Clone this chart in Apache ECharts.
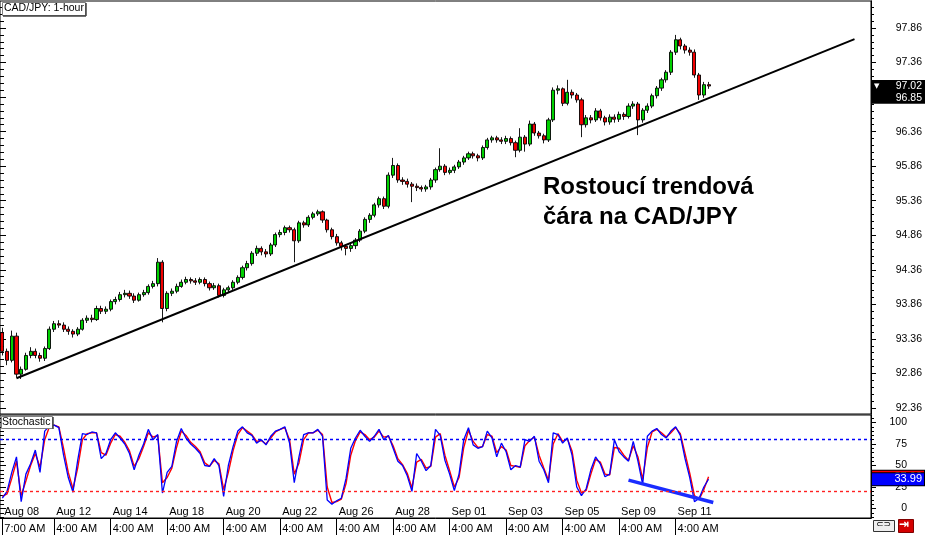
<!DOCTYPE html>
<html><head><meta charset="utf-8">
<script src="https://cdn.jsdelivr.net/npm/echarts@6/dist/echarts.min.js"></script>
<style>html,body{margin:0;padding:0;background:#fff}#c{width:925px;height:535px}</style>
</head><body><div id="c"></div>
<script>
// ---- price candles (open / close / low / high) ----
const open = [
93.45,93.18,93.05,93.40,92.85,92.92,93.12,93.18,93.12,93.08,
93.22,93.50,93.58,93.56,93.50,93.47,93.43,93.50,93.63,93.66,
93.64,93.80,93.76,93.79,93.90,93.93,94.00,94.02,93.98,93.92,
94.00,94.03,94.12,94.16,94.47,93.80,94.02,94.05,94.12,94.18,
94.22,94.20,94.18,94.22,94.16,94.10,94.13,93.99,94.07,94.10,
94.18,94.25,94.39,94.45,94.60,94.67,94.62,94.59,94.72,94.87,
94.90,94.97,94.94,94.78,95.04,95.01,95.12,95.17,95.20,95.08,
94.94,94.84,94.75,94.70,94.67,94.71,94.79,94.92,95.09,95.15,
95.30,95.39,95.28,95.73,95.87,95.66,95.64,95.60,95.57,95.55,
95.53,95.56,95.66,95.81,95.86,95.77,95.80,95.85,95.92,95.98,
96.04,96.01,95.98,96.13,96.24,96.27,96.24,96.22,96.26,96.20,
96.09,96.28,96.18,96.47,96.34,96.30,96.24,96.53,96.96,96.98,
96.77,96.93,96.89,96.82,96.46,96.56,96.53,96.66,96.56,96.50,
96.57,96.54,96.61,96.58,96.73,96.76,96.53,96.67,96.73,96.88,
96.99,97.11,97.22,97.51,97.69,97.60,97.54,97.51,97.18,96.89,
97.04];
const close = [
93.18,93.05,93.40,92.85,92.92,93.12,93.18,93.12,93.08,93.22,
93.50,93.58,93.56,93.50,93.47,93.43,93.50,93.63,93.66,93.64,
93.80,93.76,93.79,93.90,93.93,94.00,94.02,93.98,93.92,94.00,
94.03,94.12,94.16,94.47,93.80,94.02,94.05,94.12,94.18,94.22,
94.20,94.18,94.22,94.16,94.10,94.13,93.99,94.07,94.10,94.18,
94.25,94.39,94.45,94.60,94.67,94.62,94.59,94.72,94.87,94.90,
94.97,94.94,94.78,95.04,95.01,95.12,95.17,95.20,95.08,94.94,
94.84,94.75,94.70,94.67,94.71,94.79,94.92,95.09,95.15,95.30,
95.39,95.28,95.73,95.87,95.66,95.64,95.60,95.57,95.55,95.53,
95.56,95.66,95.81,95.86,95.77,95.80,95.85,95.92,95.98,96.04,
96.01,95.98,96.13,96.24,96.27,96.24,96.22,96.26,96.20,96.09,
96.28,96.18,96.47,96.34,96.30,96.24,96.53,96.96,96.98,96.77,
96.93,96.89,96.82,96.46,96.56,96.53,96.66,96.56,96.50,96.57,
96.54,96.61,96.58,96.73,96.76,96.53,96.67,96.73,96.88,96.99,
97.11,97.22,97.51,97.69,97.60,97.54,97.51,97.18,96.89,97.04,
97.02];
const low = [
93.12,92.98,93.02,92.80,92.78,92.90,93.08,93.08,93.03,93.04,
93.20,93.46,93.52,93.46,93.42,93.38,93.40,93.48,93.59,93.60,
93.62,93.72,93.72,93.76,93.86,93.90,93.96,93.94,93.88,93.90,
93.97,94.00,94.09,94.12,93.60,93.76,93.98,94.02,94.10,94.15,
94.16,94.14,94.15,94.12,94.06,94.07,93.96,93.96,94.03,94.07,
94.15,94.22,94.35,94.42,94.56,94.57,94.54,94.56,94.69,94.83,
94.86,94.90,94.47,94.75,94.97,94.98,95.09,95.14,95.04,94.90,
94.80,94.71,94.64,94.57,94.62,94.66,94.76,94.89,95.04,95.12,
95.26,95.24,95.25,95.69,95.62,95.59,95.55,95.34,95.50,95.49,
95.49,95.52,95.62,95.78,95.73,95.74,95.76,95.82,95.88,95.95,
95.97,95.93,95.95,96.10,96.20,96.20,96.18,96.18,96.16,95.99,
96.06,96.07,96.15,96.30,96.26,96.19,96.21,96.50,96.90,96.73,
96.74,96.84,96.78,96.28,96.42,96.48,96.50,96.52,96.45,96.46,
96.49,96.50,96.53,96.55,96.69,96.31,96.49,96.63,96.70,96.84,
96.95,97.07,97.18,97.47,97.55,97.49,97.46,97.14,96.82,96.85,
96.98];
const high = [
93.52,93.22,93.48,93.45,92.96,93.16,93.24,93.22,93.16,93.25,
93.54,93.62,93.63,93.60,93.54,93.50,93.53,93.66,93.70,93.71,
93.84,93.84,93.83,93.93,93.97,94.04,94.07,94.06,94.02,94.03,
94.07,94.15,94.20,94.53,94.50,94.05,94.09,94.16,94.22,94.26,
94.25,94.24,94.25,94.25,94.19,94.17,94.16,94.10,94.13,94.21,
94.28,94.42,94.49,94.63,94.71,94.70,94.66,94.75,94.90,94.94,
95.00,95.00,94.97,95.07,95.07,95.15,95.20,95.23,95.22,95.10,
94.97,94.88,94.78,94.73,94.75,94.82,94.95,95.12,95.18,95.33,
95.42,95.42,95.77,95.98,95.90,95.70,95.68,95.63,95.61,95.58,
95.59,95.69,95.84,96.12,95.89,95.84,95.88,95.95,96.01,96.07,
96.07,96.04,96.16,96.27,96.30,96.30,96.28,96.30,96.29,96.23,
96.41,96.31,96.52,96.50,96.37,96.33,96.56,97.00,97.03,97.00,
97.11,96.97,96.92,96.85,96.60,96.60,96.70,96.69,96.59,96.61,
96.61,96.65,96.64,96.77,96.80,96.79,96.70,96.77,96.91,97.02,
97.14,97.25,97.54,97.76,97.72,97.63,97.58,97.55,97.21,97.08,
97.08];

// ---- stochastic (%K blue, %D red) ----
const kValues = [
12,20,42,60,8,40,52,68,42,90,
96,97,94,62,36,19,56,87,86,89,
88,58,64,80,88,82,75,64,45,62,
75,92,80,86,18,42,49,78,93,82,
75,70,64,50,49,58,50,14,50,72,
90,95,88,85,76,80,74,84,90,92,
95,76,30,60,86,88,88,92,84,10,
5,9,12,35,70,82,91,84,78,84,
92,80,85,70,55,50,38,20,64,55,
44,50,92,85,56,40,21,40,80,94,
74,70,72,90,82,60,76,66,45,50,
48,80,78,84,55,45,30,88,86,76,
82,62,25,15,23,45,60,52,37,40,
80,66,60,55,78,55,28,84,90,93,
86,82,90,95,85,58,36,8,12,25,
33.99];
const dValues = [
14,17,35,55,15,32,50,64,48,80,
95,97,95,70,42,23,47,80,87,88,
88,65,62,76,86,84,77,67,49,58,
72,88,83,85,30,36,47,71,90,85,
77,72,66,53,49,56,52,22,42,67,
86,94,90,86,78,79,75,82,89,92,
94,80,40,53,80,88,88,91,86,25,
7,8,11,29,62,79,89,86,80,83,
90,83,84,73,58,51,41,24,54,57,
47,49,83,87,62,44,25,36,71,91,
78,71,72,86,84,65,72,68,50,49,
48,73,79,83,62,47,33,75,87,78,
81,67,33,18,21,40,57,54,40,39,
71,70,62,56,73,60,34,71,89,92,
88,83,88,94,87,64,41,15,11,22,
37];

// ---- axes / annotations ----
const slotCount = 185;
const priceTicks = [92.36,92.86,93.36,93.86,94.36,94.86,95.36,95.86,96.36,96.86,97.36,97.86];
const stochTicks = [0,25,50,75,100];
const stochLevels = [80,20];
const priceMarkers = [97.02,96.85];
const tickIndex = [0,11,23,35,47,59,71,83,95,107,119,131,143];
const tickDates = ['Aug 08','Aug 12','Aug 14','Aug 18','Aug 20','Aug 22','Aug 26','Aug 28','Sep 01','Sep 03','Sep 05','Sep 09','Sep 11'];
const tickTimes = ['7:00 AM','4:00 AM','4:00 AM','4:00 AM','4:00 AM','4:00 AM','4:00 AM','4:00 AM','4:00 AM','4:00 AM','4:00 AM','4:00 AM','4:00 AM'];
const trendLine = [[3,92.79],[181,97.70]];
const stochTrend = [[133,33],[151,7]];

const FONT = '"Liberation Sans", Arial, sans-serif';
const NOLINE = {color: 'rgba(0,0,0,0)', width: 1};
const cats = []; for (let i = 0; i < slotCount; i++) cats.push(String(i));
const candles = open.map((o, i) => [o, close[i], low[i], high[i]]);
const isTick = (i) => tickIndex.indexOf(i) >= 0;
const priceMinor = []; for (let k = 0; k <= 58; k++) priceMinor.push(+(92.36 + k * 0.1).toFixed(2));
const stochMinor = []; for (let v = -10; v <= 105; v += 5) stochMinor.push(v);

const yRange0 = {min: 92.273, max: 98.251};
const yRange1 = {min: -11.0, max: 108.7};

function yAx(grid, range, pos, ticks, len, inside, labels, margin) {
  return Object.assign({
    type: 'value', gridIndex: grid, position: pos, scale: true,
    axisLine: {show: !inside, lineStyle: {color: '#000', width: 1}},
    axisTick: {show: true, inside: inside, length: len, customValues: ticks, lineStyle: {color: '#000'}},
    axisLabel: labels ? {show: true, customValues: ticks, align: 'right', margin: margin,
      color: '#000', fontSize: 10.5, fontFamily: FONT,
      formatter: v => (grid === 0 ? v.toFixed(2) : String(Math.round(v)))} : {show: false},
    splitLine: {show: false}
  }, range);
}

const lastK = kValues[kValues.length - 1];
const lastD = dValues[dValues.length - 1];

function endLabel(text, bg) {
  return {show: true, position: 'end', distance: 1,
    formatter: '{v|' + text + '}', backgroundColor: bg, borderColor: '#000', borderWidth: 1,
    padding: [0, 2, 0, 2], rich: {v: {width: 48, height: 12, lineHeight: 12, align: 'right', color: '#fff', fontSize: 11, fontFamily: FONT}}};
}

const option = {
  animation: false,
  backgroundColor: '#fff',
  grid: [
    {left: 0, top: 1, width: 871, height: 413, show: true, borderColor: '#000', borderWidth: 1, backgroundColor: '#fff'},
    {left: 0, top: 415, width: 871, height: 103, show: true, borderColor: '#000', borderWidth: 1, backgroundColor: '#fff'}
  ],
  xAxis: [
    {type: 'category', gridIndex: 0, data: cats, boundaryGap: true, axisLine: {show: false, onZero: false}, axisTick: {show: false}, axisLabel: {show: false}},
    {type: 'category', gridIndex: 1, data: cats, boundaryGap: true, position: 'bottom',
      axisLine: {show: true, onZero: false, lineStyle: {color: '#000'}}, axisTick: {show: false},
      axisLabel: {show: true, inside: true, margin: 1, interval: (i) => isTick(i), align: 'left', padding: [0, 0, 0, 2],
        fontSize: 11, fontFamily: FONT, color: '#000',
        formatter: (v, i) => tickDates[tickIndex.indexOf(i)] || ''}},
    {type: 'category', gridIndex: 1, data: cats, boundaryGap: true, position: 'bottom',
      axisLine: {show: false, onZero: false},
      axisTick: {show: true, alignWithLabel: true, interval: (i) => isTick(i), length: 17, lineStyle: {color: '#000'}},
      axisLabel: {show: true, margin: 5, interval: (i) => isTick(i), align: 'left', padding: [0, 0, 0, 2],
        fontSize: 11, fontFamily: FONT, color: '#000',
        formatter: (v, i) => tickTimes[tickIndex.indexOf(i)] || ''}}
  ],
  yAxis: [
    yAx(0, yRange0, 'right', priceTicks, 5, false, true, 51),
    yAx(0, yRange0, 'right', priceMinor, 3, false, false),
    yAx(0, yRange0, 'left', priceTicks, 6, true, false),
    yAx(0, yRange0, 'left', priceMinor, 4, true, false),
    yAx(1, yRange1, 'right', stochTicks, 5, false, true, 36),
    yAx(1, yRange1, 'right', stochMinor, 3, false, false),
    yAx(1, yRange1, 'left', stochTicks, 6, true, false),
    yAx(1, yRange1, 'left', stochMinor, 4, true, false)
  ],
  series: [
    {type: 'candlestick', xAxisIndex: 0, yAxisIndex: 0, data: candles, barWidth: 3.6,
      itemStyle: {color: '#00d000', color0: '#f00000', borderColor: '#000', borderColor0: '#000', borderWidth: 0.9},
      markLine: {silent: true, symbol: 'none', lineStyle: NOLINE,
        label: {show: true, position: 'end', distance: 1, backgroundColor: '#000', padding: [1, 3, 0, 2], lineHeight: 11,
          rich: {t: {width: 12, fontSize: 7, color: '#fff', align: 'left', fontFamily: 'DejaVu Sans'},
                 v: {width: 36, fontSize: 10.5, color: '#fff', align: 'right', fontFamily: FONT}}},
        data: priceMarkers.map((p, i) => ({yAxis: p, lineStyle: NOLINE,
          label: {formatter: (i === 0 ? '{t|▼}' : '{t| }') + '{v|' + p.toFixed(2) + '}'}}))}},
    {type: 'line', xAxisIndex: 0, yAxisIndex: 0, data: trendLine, symbol: 'none', silent: true,
      lineStyle: {color: '#000', width: 2}},
    {type: 'line', xAxisIndex: 1, yAxisIndex: 4, data: dValues, symbol: 'none',
      lineStyle: {color: '#ff0000', width: 1.4},
      markLine: {silent: true, symbol: 'none',
        data: [
          {yAxis: stochLevels[0], lineStyle: {color: '#0000ff', type: [3, 3], width: 1.4}, label: {show: false}},
          {yAxis: stochLevels[1], lineStyle: {color: '#ff2020', type: [3, 3], width: 1.4}, label: {show: false}},
          {yAxis: lastD, lineStyle: NOLINE, label: endLabel(lastD.toFixed(2), '#ff0000')}
        ]}},
    {type: 'line', xAxisIndex: 1, yAxisIndex: 4, data: kValues, symbol: 'none',
      lineStyle: {color: '#0000ff', width: 1.3},
      markLine: {silent: true, symbol: 'none',
        data: [
          {yAxis: lastK, lineStyle: NOLINE, label: endLabel(lastK.toFixed(2), '#0000ff')}
        ]}},
    {type: 'line', xAxisIndex: 1, yAxisIndex: 4, data: stochTrend, symbol: 'none', silent: true,
      lineStyle: {color: '#1a2cff', width: 3.5}}
  ],
  graphic: [
    {type: 'rect', left: 2, top: 2, shape: {width: 83, height: 13}, style: {fill: '#fff', stroke: '#808080', lineWidth: 1}, z: 100},
    {type: 'line', shape: {x1: 86, y1: 3, x2: 86, y2: 16}, style: {stroke: '#404040', lineWidth: 1.5}, z: 100},
    {type: 'line', shape: {x1: 3, y1: 16, x2: 86, y2: 16}, style: {stroke: '#404040', lineWidth: 1.5}, z: 100},
    {type: 'text', left: 4, top: 3, style: {text: 'CAD/JPY: 1-hour', fontSize: 10.5, fontFamily: FONT, fill: '#000'}, z: 101},
    {type: 'rect', left: 1, top: 416, shape: {width: 51, height: 12}, style: {fill: '#fff', stroke: '#808080', lineWidth: 1}, z: 100},
    {type: 'line', shape: {x1: 53, y1: 417, x2: 53, y2: 429}, style: {stroke: '#404040', lineWidth: 1.5}, z: 100},
    {type: 'text', left: 2, top: 416.5, style: {text: 'Stochastic', fontSize: 10.5, fontFamily: FONT, fill: '#000'}, z: 101},
    {type: 'text', left: 543, top: 172, style: {text: 'Rostoucí trendová\nčára na CAD/JPY', fontSize: 24, fontWeight: 'bold', fontFamily: FONT, fill: '#000', lineHeight: 30}, z: 100},
    {type: 'rect', left: 873, top: 520, shape: {width: 21, height: 11}, style: {fill: '#eee', stroke: '#333', lineWidth: 1}, z: 100},
    {type: 'text', left: 876, top: 520, style: {text: '⊂⊃', fontSize: 9, fontFamily: 'DejaVu Sans', fill: '#000'}, z: 101},
    {type: 'rect', left: 898, top: 519, shape: {width: 15, height: 13}, style: {fill: '#d40000', stroke: '#800000', lineWidth: 1}, z: 100},
    {type: 'text', left: 899, top: 519, style: {text: '⇥', fontSize: 12, fontWeight: 'bold', fontFamily: 'DejaVu Sans', fill: '#fff'}, z: 101}
  ]
};
const chart = echarts.init(document.getElementById('c'));
chart.setOption(option);
</script></body></html>
